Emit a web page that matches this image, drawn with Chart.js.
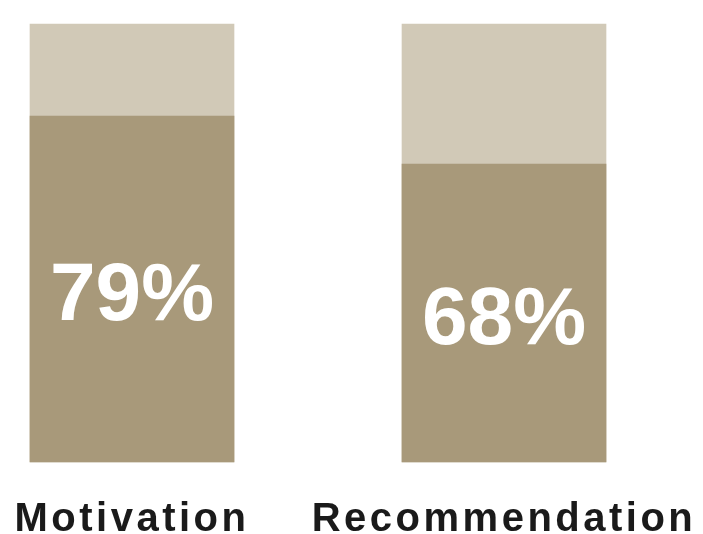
<!DOCTYPE html>
<html>
<head>
<meta charset="utf-8">
<script src="https://cdn.jsdelivr.net/npm/chart.js@4"></script>
<style>
  html, body { margin: 0; padding: 0; background: #fff; }
  #wrap { width: 703px; height: 534px; }
</style>
</head>
<body>
<div id="wrap"><canvas id="chart"></canvas></div>
<script>
const categories = ['Motivation', 'Recommendation']
const scores = [79, 68]
const fullScale = [100, 100]

// spaced-out axis labels
const spacing = {
  id: 'spacing',
  beforeUpdate(chart) {
    chart.ctx.letterSpacing = '3.5px'
  }
}

// big white percentage in the middle of each filled bar
const valueLabels = {
  id: 'valueLabels',
  afterDatasetsDraw(chart) {
    const ctx = chart.ctx
    const meta = chart.getDatasetMeta(0)
    ctx.save()
    ctx.letterSpacing = '0px'
    ctx.fillStyle = '#ffffff'
    ctx.font = 'bold 82px "Liberation Sans", Arial, sans-serif'
    ctx.textAlign = 'center'
    ctx.textBaseline = 'alphabetic'
    meta.data.forEach((bar, i) => {
      const { x, y, base } = bar.getProps(['x', 'y', 'base'], true)
      ctx.fillText(scores[i] + '%', x, (y + base) / 2 + 31)
    })
    ctx.restore()
  }
}

new Chart(document.getElementById('chart').getContext('2d'), {
  type: 'bar',
  data: {
    labels: categories,
    datasets: [
      {
        data: scores,
        backgroundColor: '#a8997a',
        barThickness: 204,
        clip: false
      },
      {
        data: fullScale,
        backgroundColor: '#d1c9b7',
        barThickness: 204,
        clip: false
      }
    ]
  },
  options: {
    responsive: true,
    maintainAspectRatio: false,
    animation: false,
    events: [],
    layout: {
      padding: { left: 132, right: 199, top: 24, bottom: 0 }
    },
    plugins: {
      legend: { display: false },
      tooltip: { enabled: false }
    },
    scales: {
      x: {
        offset: false,
        grid: { display: false, drawTicks: false },
        border: { display: false },
        ticks: {
          color: '#1a1a1a',
          padding: 34,
          maxRotation: 0,
          autoSkip: false,
          font: { family: '"Liberation Sans", Arial, sans-serif', size: 40, weight: 'bold' }
        },
        afterFit(scale) {
          // labels may hang past the plot edges
          scale.paddingLeft = 0
          scale.paddingRight = 0
          scale.height = 72
        }
      },
      y: {
        display: false,
        min: 0,
        max: 100
      }
    },
    datasets: {
      bar: { grouped: false }
    }
  },
  plugins: [spacing, valueLabels]
})
</script>
</body>
</html>
